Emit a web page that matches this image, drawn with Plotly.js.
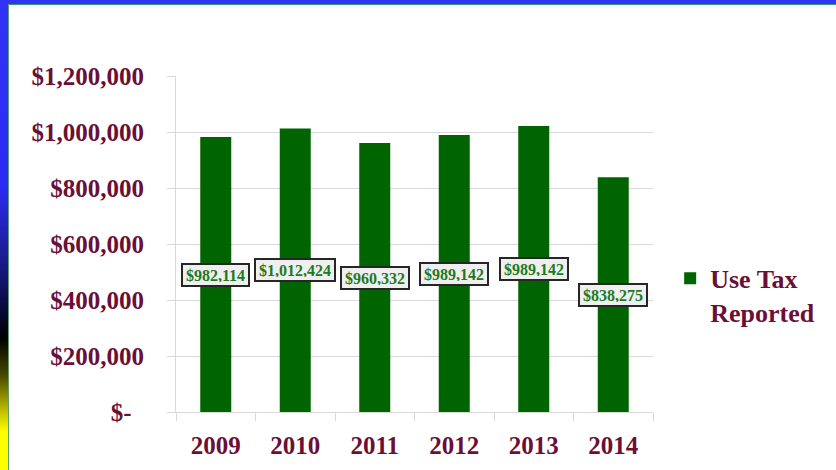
<!DOCTYPE html>
<html>
<head>
<meta charset="utf-8">
<script src="https://cdn.plot.ly/plotly-3.0.1.min.js"></script>
<style>
  html, body { margin: 0; padding: 0; background: #ffffff; overflow: hidden; }
  #wrap { position: relative; width: 836px; height: 470px; }
  #chart { position: absolute; left: 0; top: 0; width: 836px; height: 470px; }
  .strip { position: absolute; pointer-events: none; z-index: 5; }
  #topbar { left: 0; top: 0; width: 836px; height: 4px; background: #3333f5; }
  #topline { left: 8px; top: 4px; width: 828px; height: 1px; background: #3a9a6a; }
  #leftbar { left: 0; top: 0; width: 8px; height: 470px;
    background: linear-gradient(to bottom, #3333f5 0%, #2b2bf0 40%, #1c1c90 55%, #0a0a40 65%, #000000 72%, #4a4a00 80%, #c8c800 88%, #ffff00 92%, #ffff00 100%); }
  #leftline { left: 8px; top: 4px; width: 1px; height: 466px; background: #5aa06a; }
</style>
</head>
<body>
<div id="wrap">
  <div id="chart"></div>
  <div class="strip" id="topbar"></div>
  <div class="strip" id="topline"></div>
  <div class="strip" id="leftbar"></div>
  <div class="strip" id="leftline"></div>
</div>
<script>
// Data
var years = ['2009', '2010', '2011', '2012', '2013', '2014'];
var useTaxReported = [982114, 1012424, 960332, 989142, 1021000, 838275];
var dataLabels = ['$982,114', '$1,012,424', '$960,332', '$989,142', '$989,142', '$838,275'];
var yTickValues = [0, 200000, 400000, 600000, 800000, 1000000, 1200000];
var yTickLabels = ['$-', '$200,000', '$400,000', '$600,000', '$800,000', '$1,000,000', '$1,200,000'];
var seriesName = 'Use Tax<br>Reported';

var maroon = '#6b0f37';
var serif = 'Liberation Serif, Times New Roman, serif';

var trace = {
  type: 'bar',
  x: years,
  y: useTaxReported,
  name: seriesName,
  marker: { color: '#006400' },
  hoverinfo: 'x+y',
  showlegend: true
};

// annotations placed by category index so they follow the category axis
var annotations = years.map(function (yr, i) {
  return {
    x: i,
    y: useTaxReported[i] / 2,
    xref: 'x',
    yref: 'y',
    text: '<b>' + dataLabels[i] + '</b>',
    showarrow: false,
    font: { family: serif, size: 16, color: '#1e7a1e' },
    bgcolor: '#efefef',
    bordercolor: '#262626',
    borderwidth: 2,
    borderpad: 3,
    height: 14,
    xanchor: 'center',
    yanchor: 'middle'
  };
});

// accounting-style zero label: keep a little blank space after "$-"
var yTickText = yTickLabels.map(function (t, i) {
  return yTickValues[i] === 0 ? t + '<span style="color:#ffffff">0</span>' : t;
});

var layout = {
  width: 836,
  height: 470,
  paper_bgcolor: '#ffffff',
  plot_bgcolor: '#ffffff',
  margin: { l: 176, r: 183, t: 76, b: 58 },
  bargap: 0.61,
  font: { family: serif, color: maroon },
  xaxis: {
    type: 'category',
    categoryorder: 'array',
    categoryarray: years,
    range: [-0.5, years.length - 0.5],
    showgrid: false,
    showline: true,
    linecolor: '#d9d9d9',
    linewidth: 1,
    ticks: 'outside',
    tickson: 'boundaries',
    ticklen: 8,
    tickcolor: '#d9d9d9',
    tickfont: { family: serif, size: 25, color: maroon, weight: 'bold' },
    ticklabelstandoff: 11,
    zeroline: false
  },
  yaxis: {
    range: [0, 1200000],
    tickvals: yTickValues,
    ticktext: yTickText,
    showgrid: true,
    gridcolor: '#d9d9d9',
    gridwidth: 1,
    showline: true,
    linecolor: '#d9d9d9',
    ticks: 'outside',
    ticklen: 8,
    tickcolor: '#d9d9d9',
    tickfont: { family: serif, size: 25, color: maroon, weight: 'bold' },
    ticklabelstandoff: 18,
    zeroline: false,
    fixedrange: true
  },
  legend: {
    x: 1.036,
    xanchor: 'left',
    y: 0.468,
    yanchor: 'top',
    valign: 'top',
    font: { family: serif, size: 26, color: maroon, weight: 'bold' },
    bgcolor: 'rgba(0,0,0,0)'
  },
  annotations: annotations
};

Plotly.newPlot('chart', [trace], layout, { displayModeBar: false, staticPlot: true });
</script>
</body>
</html>
